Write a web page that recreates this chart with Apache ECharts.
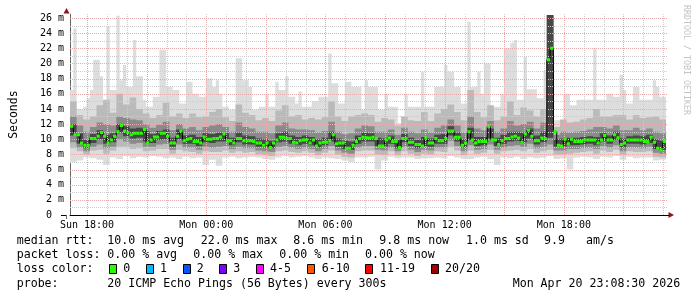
<!DOCTYPE html>
<html>
<head>
<meta charset="utf-8">
<script src="https://cdn.jsdelivr.net/npm/echarts@6/dist/echarts.min.js"></script>
<style>
html,body{margin:0;padding:0;background:#ffffff;}
#chart{width:697px;height:297px;}
</style>
</head>
<body>
<div id="chart"></div>
<script>
// ---------- time frame (clock hours counted from Sun 00:00) ----------
const START_HOUR = 17 + 8.5 / 60;   // Sun 17:08:30
const SPAN_HOURS = 30;
const SMOKE_STEP = 1 / 3;           // 20 min per smoke sample
const FINE_STEP = 1 / 6;            // 10 min per max / median sample
const Y_MAX = 26.5;

// ---------- smoke (ms) ----------
// highest ping, 10-minute samples
const smokeMax = [16.5,24.6,14.0,13.9,14.3,15.4,16.5,20.5,20.5,18.3,
 14.7,24.9,16.5,16.5,26.3,17.8,19.8,16.9,16.9,23.1,
 18.3,18.3,15.2,14.3,14.3,15.6,15.6,21.8,21.8,16.9,
 16.9,16.5,16.5,14.7,14.7,17.6,17.6,16.0,16.0,15.6,
 15.6,18.0,18.0,16.9,17.8,16.0,14.3,14.3,13.9,13.9,
 20.7,20.7,17.8,17.8,16.9,13.9,13.9,14.3,14.3,16.0,
 14.3,14.3,17.6,16.5,16.5,18.3,15.6,15.6,14.7,16.3,
 14.3,14.3,14.3,15.0,15.0,15.6,15.6,15.6,21.3,17.4,
 17.4,14.7,14.7,17.6,17.6,16.9,16.9,16.9,13.9,17.8,
 16.9,16.9,16.9,13.9,13.9,16.0,14.3,14.3,14.3,12.1,
 12.1,16.0,14.3,14.3,14.3,14.3,18.9,14.3,14.3,14.3,
 16.9,16.9,16.9,19.8,18.9,18.9,16.9,16.9,14.7,14.7,
 25.5,16.9,16.9,18.9,16.0,20.0,20.0,14.3,14.3,14.3,
 16.0,22.0,22.0,22.7,23.1,15.2,15.2,20.9,16.6,16.6,
 16.6,15.4,15.4,19.1,26.4,26.4,12.5,12.5,12.5,16.0,
 16.0,14.5,14.5,15.2,15.2,15.2,15.2,15.2,22.0,15.2,
 15.2,15.2,16.0,16.0,15.6,15.6,18.5,16.5,14.7,14.7,
 16.9,16.9,15.2,15.2,15.2,15.2,17.8,16.9,15.6,15.6];
// inner bands, 20-minute samples
const smokeHi2 = [15.0,13.2,12.6,13.0,14.5,15.2,13.5,16.0,14.6,15.5,
 14.0,13.4,12.8,13.2,14.8,13.0,13.4,12.8,13.4,12.9,
 13.0,13.6,14.0,12.9,12.4,14.6,13.5,13.2,12.5,12.8,
 12.4,13.8,14.5,13.0,13.2,12.6,12.8,12.6,12.9,15.0,
 13.0,12.4,13.0,13.2,13.4,13.2,12.3,12.8,12.6,11.8,
 13.0,12.5,12.4,13.6,12.4,13.4,14.0,14.6,13.6,12.5,
 16.5,13.6,12.9,14.5,12.5,13.0,15.0,13.2,14.2,13.8,
 13.0,14.0,26.4,11.6,12.6,12.2,12.3,12.6,12.8,14.0,
 13.0,13.0,13.2,13.2,12.6,13.2,12.8,12.9,13.0,12.6];
const smokeHi3 = [13.0,11.8,11.0,11.6,12.2,12.0,11.8,13.0,12.8,12.6,
 12.5,12.0,11.5,11.9,12.3,11.2,12.0,11.4,11.6,11.2,
 11.6,11.8,12.0,11.6,11.0,12.2,11.6,11.4,11.0,11.0,
 10.8,11.8,12.2,11.4,11.3,11.3,11.2,10.9,11.1,12.3,
 11.0,10.7,10.8,11.4,11.8,11.7,11.0,11.0,11.3,10.6,
 11.5,11.0,10.8,11.3,10.9,11.5,11.8,12.6,11.8,10.9,
 13.0,11.4,11.2,12.4,11.0,11.4,12.4,11.8,12.0,12.3,
 11.4,12.2,26.4,10.6,11.0,10.9,11.0,11.1,11.3,11.6,
 11.6,11.4,11.8,11.2,11.2,11.5,11.2,11.4,11.0,10.8];
const smokeHi4 = [12.0,10.8,9.9,10.7,11.2,10.6,10.8,12.0,11.7,11.4,
 11.5,11.1,10.7,11.1,11.3,10.2,11.3,10.5,10.6,10.3,
 10.8,10.7,10.9,10.8,10.2,10.9,10.5,10.4,10.1,10.0,
 9.8,10.8,11.0,10.5,10.3,10.5,10.3,10.0,10.2,11.0,
 10.1,9.8,9.7,10.5,10.9,10.8,10.2,10.1,10.5,9.9,
 10.7,10.2,9.9,10.3,10.1,10.6,10.7,11.7,10.9,10.0,
 11.5,10.3,10.3,11.4,10.2,10.6,11.0,11.0,10.9,11.4,
 10.5,11.0,26.4,10.0,10.1,10.2,10.2,10.3,10.4,10.3,
 10.8,10.5,11.0,10.1,10.4,10.5,10.4,10.6,10.0,9.8];
const smokeLo4 = [10.5,9.4,8.8,9.5,10.0,9.4,9.6,10.8,10.4,10.1,
 10.2,9.7,9.5,9.9,10.0,9.0,10.0,9.4,9.4,9.1,
 9.6,9.5,9.7,9.7,9.2,9.6,9.3,9.3,9.0,8.9,
 8.8,9.6,9.7,9.4,9.2,9.4,9.2,8.9,9.2,9.7,
 9.0,8.7,8.6,9.4,9.7,9.7,9.1,9.0,9.4,8.8,
 9.6,9.1,8.8,9.1,9.0,9.4,9.4,10.5,9.7,8.9,
 9.9,9.1,9.2,10.1,9.1,9.4,9.7,9.8,9.6,10.1,
 9.3,9.6,10.2,9.0,9.0,9.2,9.2,9.3,9.4,9.2,
 9.7,9.4,9.9,8.9,9.4,9.4,9.3,9.5,8.7,8.6];
const smokeLo3 = [9.6,8.9,8.4,9.0,9.3,8.8,9.0,10.0,9.7,9.4,
 9.5,9.0,9.0,9.3,9.4,8.6,9.3,8.9,8.9,8.6,
 9.0,8.9,9.0,9.1,8.7,9.0,8.8,8.8,8.5,8.4,
 8.3,9.0,9.1,8.9,8.7,8.9,8.7,8.4,8.7,9.1,
 8.5,8.2,8.1,8.9,9.1,9.1,8.6,8.5,8.9,8.4,
 9.0,8.6,8.3,8.6,8.5,8.9,8.9,9.8,9.1,8.4,
 9.2,8.6,8.7,9.3,8.6,8.9,9.1,9.2,9.0,9.4,
 8.8,9.0,9.3,8.5,8.5,8.7,8.7,8.8,8.9,8.7,
 9.1,8.9,9.2,8.4,8.9,8.9,8.8,9.0,8.2,8.1];
const smokeLo2 = [8.8,8.4,8.0,8.5,8.6,8.1,8.5,9.0,9.0,8.7,
 8.8,8.4,8.5,8.7,8.7,8.1,8.6,8.4,8.3,8.1,
 8.4,8.3,8.3,8.5,8.2,8.4,8.2,8.3,8.0,7.9,
 7.8,8.4,8.5,8.3,8.2,8.4,8.2,7.9,8.2,8.5,
 8.0,7.7,7.6,8.4,8.5,8.5,8.0,7.9,8.4,7.9,
 8.4,8.1,7.8,8.1,8.0,8.4,8.3,9.0,8.5,7.9,
 8.5,8.1,8.2,8.6,8.1,8.4,8.5,8.6,8.4,8.7,
 8.2,8.4,8.6,8.0,8.0,8.1,8.2,8.3,8.4,8.1,
 8.5,8.3,8.6,7.9,8.4,8.3,8.3,8.4,7.7,7.6];
const smokeMin = [7.0,7.2,7.6,7.5,7.3,6.6,7.6,7.4,7.8,7.5,
 7.7,7.6,7.8,7.7,7.5,7.6,7.4,7.7,7.5,7.6,
 6.6,7.3,6.5,7.6,7.7,7.5,7.6,7.7,7.6,7.4,
 7.3,7.6,7.8,7.6,7.7,7.8,7.6,7.4,7.6,7.5,
 7.4,7.2,7.0,7.6,7.6,7.7,6.0,7.2,7.7,7.5,
 7.6,7.6,7.4,7.5,7.5,7.6,7.5,7.8,7.6,7.4,
 7.4,7.6,7.7,7.4,6.6,7.6,7.5,7.7,7.4,7.6,
 7.5,7.6,7.8,7.4,7.5,6.0,7.6,7.7,7.6,7.4,
 7.7,7.6,7.8,7.3,7.7,7.5,7.6,7.6,7.2,7.3];

// ---------- median rtt (ms), 10-minute samples ----------
const medianRtt = [11.7,10.6,10.6,9.5,9.2,9.2,10.1,10.1,10.4,10.9,
 10.4,9.5,9.9,10.4,11.0,11.8,11.1,10.9,10.6,10.8,
 10.8,10.8,11.3,9.5,9.9,10.3,10.3,10.8,10.8,10.4,
 9.5,9.5,10.4,11.1,9.8,10.0,10.1,9.7,9.7,9.5,
 10.3,10.0,10.0,10.1,10.1,10.3,10.7,9.8,9.8,9.5,
 10.1,10.1,9.8,9.8,9.8,9.7,9.5,9.5,9.2,9.5,
 8.9,9.5,9.9,10.25,10.25,10.1,10.1,9.6,9.5,9.8,
 9.9,9.9,9.5,9.9,9.1,9.5,9.6,9.6,9.8,10.6,
 9.4,9.5,9.5,8.8,8.8,9.2,9.7,10.1,10.25,10.2,
 10.15,10.25,10.1,9.1,9.1,9.9,10.15,9.7,9.7,8.9,
 10.1,10.1,9.6,9.6,9.3,9.3,9.1,10.15,9.5,9.5,
 10.1,9.8,9.8,10.1,11.1,11.1,10.25,10.25,9.2,9.5,
 11.0,9.9,9.5,9.7,9.7,9.7,11.7,9.9,9.9,9.3,
 9.8,10.1,10.1,10.3,10.4,10.15,9.6,10.7,11.2,10.4,
 9.8,9.8,10.15,10.1,20.5,22.0,11.0,9.2,9.1,10.0,
 9.4,10.0,9.7,9.7,9.7,9.9,9.9,9.9,9.9,9.5,
 9.9,10.5,9.9,9.9,10.6,10.2,9.3,9.5,9.9,9.9,
 9.9,9.9,9.9,9.7,9.7,10.25,9.6,8.8,8.6,9.7];

// ---------- ticks ----------
const gridHours = [18,19,20,21,22,23,24,25,26,27,28,29,30,31,32,33,34,35,36,37,38,39,40,41,42,43,44,45,46,47];
const majorHours = [18,21,24,27,30,33,36,39,42,45];
const labelHours = [18,24,30,36,42];
const labelTexts = ['Sun 18:00','Mon 00:00','Mon 06:00','Mon 12:00','Mon 18:00'];
const gridValues = [1,2,3,4,5,6,7,8,9,10,11,12,13,14,15,16,17,18,19,20,21,22,23,24,25,26];
const majorValues = [2,4,6,8,10,12,14,16,18,20,22,24,26];
const yLabelValues = [0,2,4,6,8,10,12,14,16,18,20,22,24,26];

// ---------- legend texts ----------
const rttStats = ['10.0 ms avg','22.0 ms max','8.6 ms min','9.8 ms now','1.0 ms sd','9.9','am/s'];
const lossStats = ['0.00 % avg','0.00 % max','0.00 % min','0.00 % now'];
const lossLabels = ['0','1','2','3','4-5','6-10','11-19','20/20'];
const lossColors = ['#26ff00','#00b8ff','#0059ff','#7e00ff','#ff00ff','#ff5500','#ff0000','#a00000'];
const probeText = '20 ICMP Echo Pings (56 Bytes) every 300s';
const stampText = 'Mon Apr 20 23:08:30 2026';

// ---------- layout (pixels) ----------
const MONO = 'DejaVu Sans Mono';
const LAYOUT = {
  rttX: [107.3,200.7,293.3,379.3,466,544,586],
  lossX: [107.3,193.3,279.3,365],
  boxX: [109.3,146,182.7,219.3,256,306.7,365,430.7],
  boxLabelX: [123.3,160,196.7,233.3,270,321.7,380,445],
  rowY: [241.3,255.3,269.3,283.7],
  leftX: 16.7
};

const GRID_RED = '#e6aaaa';
const GRID_GRAY = '#cdcdcd';

const layers = [
  {lo: smokeMin, loStep: SMOKE_STEP, hi: smokeMax, hiStep: FINE_STEP, color: '#dddddd'},
  {lo: smokeLo2, loStep: SMOKE_STEP, hi: smokeHi2, hiStep: SMOKE_STEP, color: '#bababa'},
  {lo: smokeLo3, loStep: SMOKE_STEP, hi: smokeHi3, hiStep: SMOKE_STEP, color: '#8a8a8a'},
  {lo: smokeLo4, loStep: SMOKE_STEP, hi: smokeHi4, hiStep: SMOKE_STEP, color: '#474747'}
];

function stepEdge(api, values, step) {
  const pts = [];
  for (let i = 0; i < values.length; i++) {
    const t0 = START_HOUR + i * step, t1 = t0 + step;
    pts.push(api.coord([t0, values[i]]), api.coord([t1, values[i]]));
  }
  return pts;
}

const chart = echarts.init(document.getElementById('chart'), null, {renderer: 'canvas'});

const graphics = [];
function txt(x, y, s, extra) {
  graphics.push(Object.assign({
    type: 'text', x: x, y: y, silent: true,
    style: {text: s, fill: '#000', fontSize: 11.6, fontFamily: MONO, verticalAlign: 'middle', align: 'left'}
  }, extra || {}));
}
txt(LAYOUT.leftX, LAYOUT.rowY[0], 'median rtt:');
rttStats.forEach((s, k) => txt(LAYOUT.rttX[k], LAYOUT.rowY[0], s));
txt(LAYOUT.leftX, LAYOUT.rowY[1], 'packet loss:');
lossStats.forEach((s, k) => txt(LAYOUT.lossX[k], LAYOUT.rowY[1], s));
txt(LAYOUT.leftX, LAYOUT.rowY[2], 'loss color:');
lossLabels.forEach((s, k) => {
  graphics.push({type: 'rect', silent: true,
    shape: {x: Math.round(LAYOUT.boxX[k]) + 0.5, y: 264.5, width: 7, height: 9},
    style: {fill: lossColors[k], stroke: '#000', lineWidth: 1}});
  txt(LAYOUT.boxLabelX[k], LAYOUT.rowY[2], s);
});
txt(LAYOUT.leftX, LAYOUT.rowY[3], 'probe:');
txt(107.3, LAYOUT.rowY[3], probeText);
txt(512.7, LAYOUT.rowY[3], stampText);
// watermark
graphics.push({type: 'text', x: 686, y: 5, rotation: -Math.PI / 2, silent: true,
  style: {text: 'RRDTOOL / TOBI OETIKER', fill: '#c4c4c4', fontSize: 8.3, fontFamily: MONO, verticalAlign: 'middle', align: 'left'}});
// axis arrows and short axis overhangs
graphics.push({type: 'polygon', silent: true, shape: {points: [[63.5, 13.5], [69.5, 13.5], [66.5, 8]]}, style: {fill: '#8b1414'}});
graphics.push({type: 'polygon', silent: true, shape: {points: [[668.5, 212], [668.5, 218], [674, 215]]}, style: {fill: '#8b1414'}});
graphics.push({type: 'line', silent: true, shape: {x1: 61, y1: 215.5, x2: 67, y2: 215.5}, style: {stroke: '#000', lineWidth: 1}});
graphics.push({type: 'line', silent: true, shape: {x1: 66.5, y1: 215, x2: 66.5, y2: 219}, style: {stroke: '#666', lineWidth: 1}});
graphics.push({type: 'line', silent: true, shape: {x1: 666, y1: 215.5, x2: 669, y2: 215.5}, style: {stroke: '#000', lineWidth: 1}});

const option = {
  animation: false,
  backgroundColor: '#ffffff',
  grid: {left: 66, width: 600, top: 215 - Y_MAX * 7.577, bottom: 82, containLabel: false},
  xAxis: {
    type: 'value', min: START_HOUR, max: START_HOUR + SPAN_HOURS,
    axisLine: {show: true, lineStyle: {color: '#000', width: 1}},
    axisTick: {show: false},
    splitLine: {show: false},
    axisLabel: {
      customValues: labelHours, margin: 5, color: '#000', fontFamily: MONO, fontSize: 10,
      formatter: v => labelTexts[labelHours.indexOf(Math.round(v))] || ''
    }
  },
  yAxis: {
    type: 'value', min: 0, max: Y_MAX,
    name: 'Seconds', nameLocation: 'middle', nameGap: 50,
    nameTextStyle: {color: '#000', fontFamily: MONO, fontSize: 11.5},
    axisLine: {show: true, lineStyle: {color: '#666', width: 1}},
    axisTick: {show: false},
    splitLine: {show: false},
    axisLabel: {
      customValues: yLabelValues, margin: 6, color: '#000', fontFamily: MONO, fontSize: 10,
      formatter: v => (v === 0 ? '0  ' : v + ' m')
    }
  },
  graphic: graphics,
  series: [
    {
      type: 'custom', name: 'smoke', coordinateSystem: 'cartesian2d', z: 1, silent: true, clip: true,
      data: layers.map((l, k) => [START_HOUR, 0, k]),
      encode: {x: 0, y: 1},
      renderItem: (params, api) => {
        const L = layers[params.dataIndex];
        const top = stepEdge(api, L.hi, L.hiStep);
        const bottom = stepEdge(api, L.lo, L.loStep).reverse();
        return {type: 'polygon', shape: {points: top.concat(bottom)}, style: {fill: L.color}};
      }
    },
    {
      type: 'custom', name: 'grid', coordinateSystem: 'cartesian2d', z: 2, silent: true, clip: false,
      data: [[START_HOUR, 0]],
      encode: {x: 0, y: 1},
      renderItem: (params, api) => {
        const children = [];
        gridHours.forEach(h => {
          const p0 = api.coord([h, 0]), p1 = api.coord([h, Y_MAX]);
          const x = Math.round(p0[0]) + 0.5;
          children.push({type: 'line', shape: {x1: x, y1: p0[1], x2: x, y2: p1[1]},
            style: {stroke: majorHours.includes(h) ? GRID_RED : GRID_GRAY, lineWidth: 1, lineDash: [1, 1], lineDashOffset: 0}});
        });
        gridValues.forEach(v => {
          const p0 = api.coord([START_HOUR, v]), p1 = api.coord([START_HOUR + SPAN_HOURS, v]);
          const y = Math.round(p0[1]) + 0.5;
          children.push({type: 'line', shape: {x1: p0[0], y1: y, x2: p1[0] + 2, y2: y},
            style: {stroke: majorValues.includes(v) ? GRID_RED : GRID_GRAY, lineWidth: 1, lineDash: [1, 1], lineDashOffset: 0}});
        });
        return {type: 'group', children};
      }
    },
    {
      type: 'custom', name: 'median', coordinateSystem: 'cartesian2d', z: 3, silent: true, clip: true,
      data: [[START_HOUR, 0]],
      encode: {x: 0, y: 1},
      renderItem: (params, api) => {
        const pts = [];
        const dashes = [];
        medianRtt.forEach((m, j) => {
          const t0 = START_HOUR + j * FINE_STEP, t1 = t0 + FINE_STEP;
          const a = api.coord([t0, m]), b = api.coord([t1, m]);
          pts.push(a, b);
          dashes.push({type: 'rect', shape: {x: a[0], y: a[1] - 1.5, width: b[0] - a[0], height: 3},
            style: {fill: '#26ff00'}});
        });
        return {type: 'group', children: [
          {type: 'polyline', shape: {points: pts}, style: {stroke: '#000', lineWidth: 1, fill: null}}
        ].concat(dashes)};
      }
    }
  ]
};
chart.setOption(option);
</script>
</body>
</html>
